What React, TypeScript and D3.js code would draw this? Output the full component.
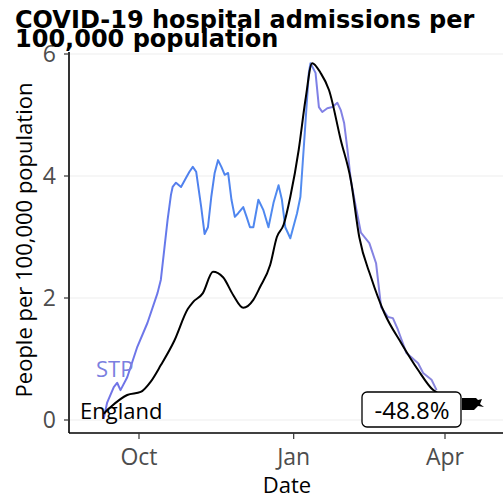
import * as d3 from 'd3';

// England rolling admissions rate
const englandDates = [
  '2020-09-10', '2020-09-12', '2020-09-14', '2020-09-24', '2020-10-02', '2020-10-08',
  '2020-10-14', '2020-10-22', '2020-10-30', '2020-11-02', '2020-11-08', '2020-11-14',
  '2020-11-20', '2020-11-26', '2020-12-02', '2020-12-08', '2020-12-12', '2020-12-18',
  '2020-12-22', '2020-12-26', '2020-12-30', '2021-01-04', '2021-01-08', '2021-01-12',
  '2021-01-17', '2021-01-22', '2021-01-29', '2021-02-04', '2021-02-09', '2021-02-16',
  '2021-02-24', '2021-03-06', '2021-03-16', '2021-03-25', '2021-03-30',
];
const englandValues = [
  0.1, 0.16, 0.21, 0.41, 0.46, 0.63,
  0.9, 1.3, 1.82, 1.93, 2.08, 2.43,
  2.34, 2.05, 1.84, 1.97, 2.18, 2.54,
  3.0, 3.2, 3.66, 4.43, 5.25, 5.85,
  5.69, 5.41, 4.59, 3.93, 3.0, 2.34,
  1.75, 1.26, 0.82, 0.49, 0.41,
];

// STP rate
const stpDates = [
  '2020-09-10', '2020-09-12', '2020-09-16', '2020-09-18', '2020-09-20', '2020-09-24',
  '2020-09-30', '2020-10-06', '2020-10-12', '2020-10-14', '2020-10-16', '2020-10-18',
  '2020-10-20', '2020-10-21', '2020-10-23', '2020-10-26', '2020-10-29', '2020-10-31',
  '2020-11-02', '2020-11-04', '2020-11-07', '2020-11-09', '2020-11-11', '2020-11-13',
  '2020-11-15', '2020-11-17', '2020-11-19', '2020-11-21', '2020-11-23', '2020-11-25',
  '2020-11-27', '2020-11-29', '2020-12-02', '2020-12-04', '2020-12-06', '2020-12-08',
  '2020-12-11', '2020-12-14', '2020-12-17', '2020-12-20', '2020-12-23', '2020-12-25',
  '2020-12-27', '2020-12-30', '2021-01-03', '2021-01-05', '2021-01-08', '2021-01-10',
  '2021-01-11', '2021-01-14', '2021-01-16', '2021-01-18', '2021-01-21', '2021-01-24',
  '2021-01-27', '2021-01-29', '2021-01-31', '2021-02-02', '2021-02-04', '2021-02-07',
  '2021-02-10', '2021-02-15', '2021-02-19', '2021-02-22', '2021-02-26', '2021-03-01',
  '2021-03-04', '2021-03-09', '2021-03-12', '2021-03-16', '2021-03-19', '2021-03-24',
  '2021-03-27',
];
const stpValues = [
  0.02, 0.28, 0.54, 0.61, 0.49, 0.7,
  1.2, 1.59, 2.08, 2.3, 2.79, 3.28,
  3.69, 3.82, 3.89, 3.82, 3.97, 4.07,
  4.15, 4.07, 3.49, 3.05, 3.16, 3.66,
  4.05, 4.26, 4.15, 4.02, 4.05, 3.61,
  3.33, 3.39, 3.49, 3.33, 3.16, 3.16,
  3.61, 3.44, 3.16, 3.56, 3.85, 3.61,
  3.16, 2.98, 3.39, 3.66, 4.87, 5.69,
  5.85, 5.69, 5.13, 5.05, 5.11, 5.13,
  5.2, 5.08, 4.87, 4.43, 3.93, 3.49,
  3.07, 2.9, 2.57, 1.85, 1.69, 1.67,
  1.48, 1.1, 1.03, 0.93, 0.77, 0.66,
  0.49,
];

const xTickDates = ['2020-10-01', '2021-01-01', '2021-04-01'];
const xTickLabels = ['Oct', 'Jan', 'Apr'];
const yTicks = [0, 2, 4, 6];
const changeLabel = '-48.8%';

const parse = d3.timeParse('%Y-%m-%d');

export default function App() {
  const width = 503;
  const height = 498;
  const left = 69;
  const bottom = 433;

  const x = d3.scaleTime()
    .domain([parse('2020-10-01')!, parse('2021-04-01')!])
    .range([139, 445]);
  const y = d3.scaleLinear().domain([0, 6]).range([420, 54]);

  const england = englandDates.map((d, i) => [x(parse(d)!), y(englandValues[i])] as [number, number]);
  const stp = stpDates.map((d, i) => [x(parse(d)!), y(stpValues[i])] as [number, number]);

  const smooth = d3.line().curve(d3.curveMonotoneX);
  const rough = d3.line();

  const font = "'Open Sans', sans-serif";

  return (
    <svg width={width} height={height} style={{ position: 'absolute', left: 0, top: 0, background: '#fff' }}>
      <defs>
        <linearGradient id="stpGrad" gradientUnits="userSpaceOnUse" x1={100} x2={440} y1={0} y2={0}>
          <stop offset="0" stopColor="#7373e6" />
          <stop offset="0.18" stopColor="#6b78ea" />
          <stop offset="0.24" stopColor="#4f80ee" />
          <stop offset="0.59" stopColor="#4f8cf0" />
          <stop offset="0.64" stopColor="#8080e6" />
          <stop offset="1" stopColor="#8b87dc" />
        </linearGradient>
      </defs>

      {yTicks.map(t => (
        <line key={'g' + t} x1={left} x2={width} y1={y(t)} y2={y(t)} stroke="#eeeeee" strokeWidth={1.2} />
      ))}

      <path d={rough(stp)!} fill="none" stroke="url(#stpGrad)" strokeWidth={2} strokeLinejoin="round" />
      <path d={smooth(england)!} fill="none" stroke="#000" strokeWidth={2} strokeLinejoin="round" />

      {/* axes */}
      <line x1={left} x2={left} y1={52} y2={bottom} stroke="#000" strokeWidth={1.6} />
      <line x1={left} x2={width} y1={bottom} y2={bottom} stroke="#000" strokeWidth={1.6} />
      {yTicks.map(t => (
        <g key={'y' + t}>
          <line x1={64} x2={left} y1={y(t)} y2={y(t)} stroke="#333" strokeWidth={1.2} />
          <text x={56} y={y(t)} dy="0.36em" textAnchor="end" fontFamily={font} fontSize={23} fill="#4d4d4d">{t}</text>
        </g>
      ))}
      {xTickDates.map((d, i) => (
        <g key={d}>
          <line x1={x(parse(d)!)} x2={x(parse(d)!)} y1={bottom} y2={bottom + 6} stroke="#333" strokeWidth={1.2} />
          <text x={x(parse(d)!)} y={465} textAnchor="middle" fontFamily={font} fontSize={23} fill="#4d4d4d">{xTickLabels[i]}</text>
        </g>
      ))}

      <text x={287} y={493} textAnchor="middle" fontFamily={font} fontSize={22} fill="#000">Date</text>
      <text transform="translate(32,240) rotate(-90)" textAnchor="middle" fontFamily={font} fontSize={22} fill="#000">
        People per 100,000 population
      </text>

      {/* line labels */}
      <text x={96} y={377} fontFamily={font} fontSize={22} fill="#7b7fe0">STP</text>
      <text x={80} y={419} fontFamily={font} fontSize={22} fill="#000">England</text>

      {/* change label */}
      <rect x={362} y={392} width={99} height={35} rx={5} fill="#fff" stroke="#000" strokeWidth={1.3} />
      <text x={412} y={419} textAnchor="middle" fontFamily={font} fontSize={24} fill="#000">{changeLabel}</text>
      <path d="M462,398 L476,398 L478,400 L482,399 L480,404 L484,407 L478,406 L474,410 L462,410 Z" fill="#000" />

      <text fontFamily="'DejaVu Sans', sans-serif" fontWeight="bold" fontSize={24} fill="#000">
        <tspan x={15} y={28}>COVID-19 hospital admissions per</tspan>
        <tspan x={15} y={47}>100,000 population</tspan>
      </text>
    </svg>
  );
}
